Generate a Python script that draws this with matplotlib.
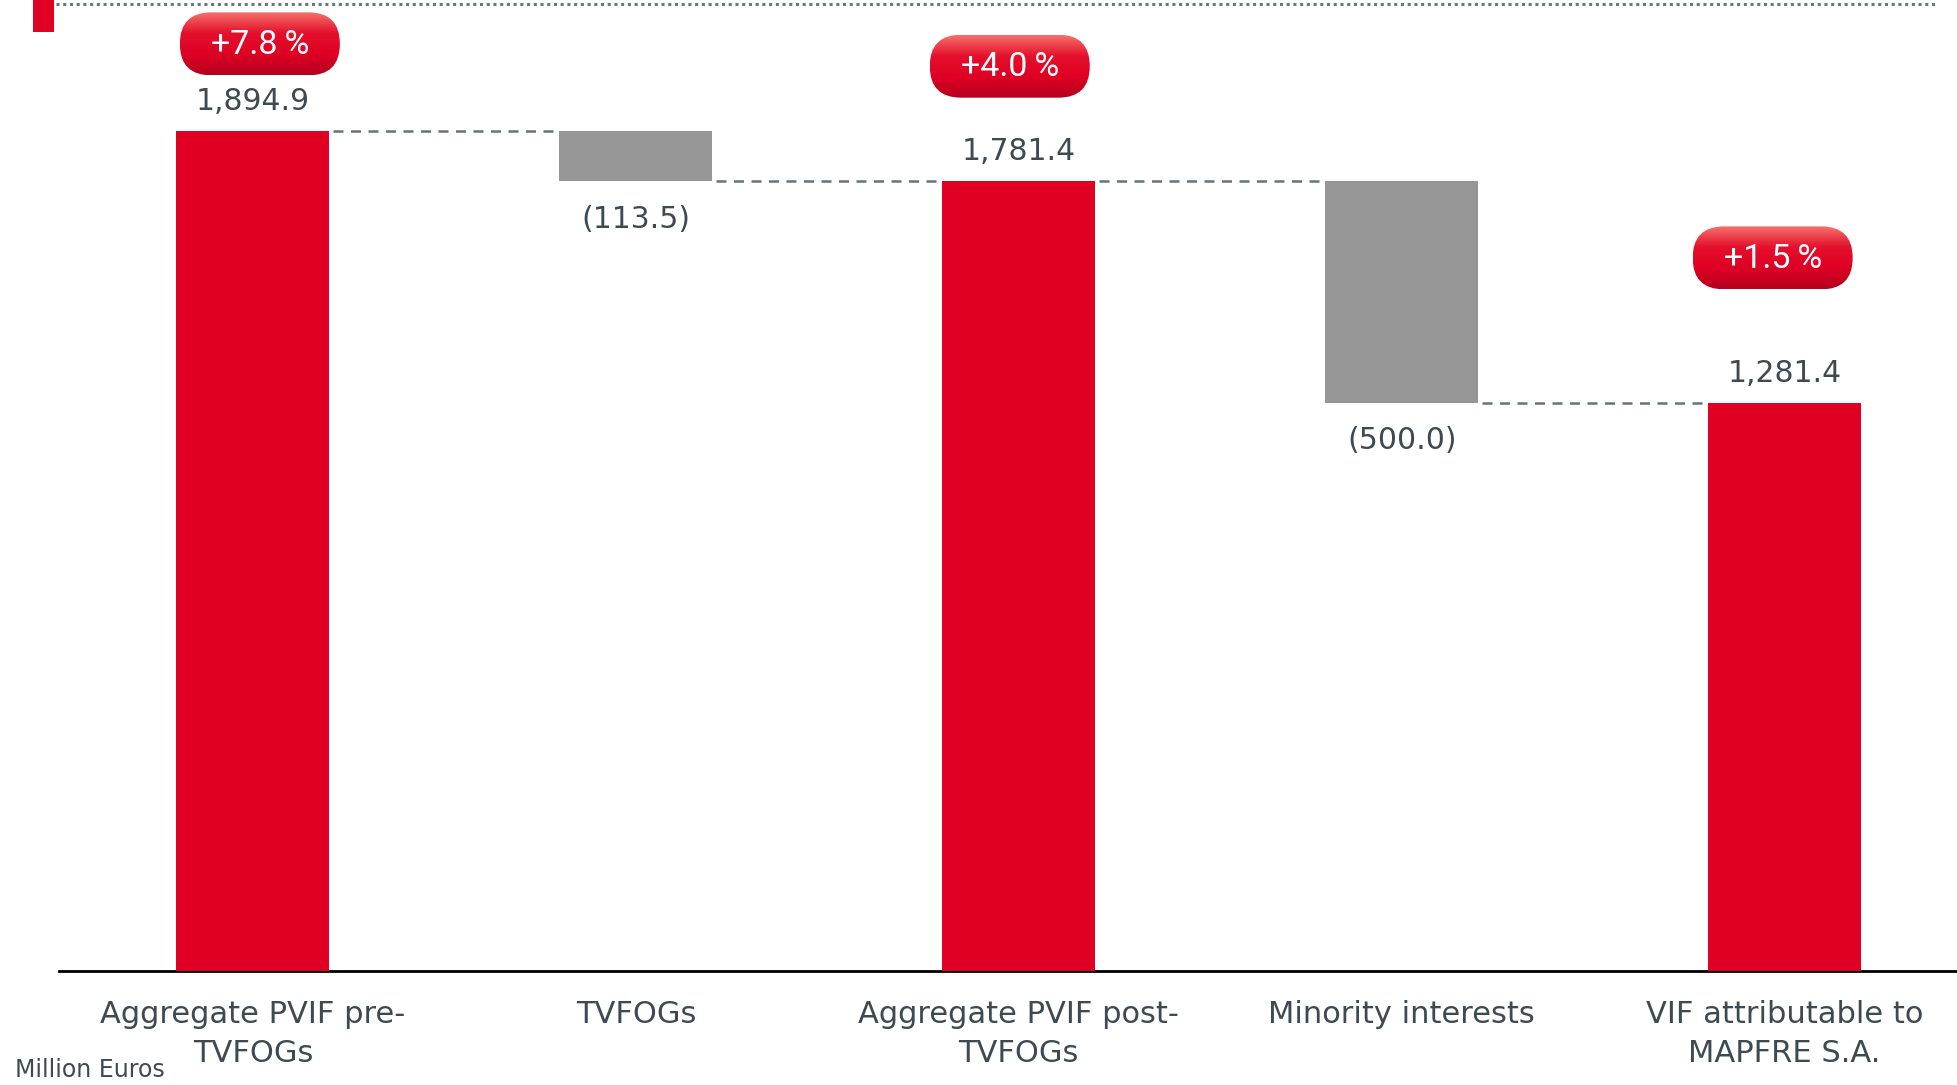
import numpy as np
import matplotlib.pyplot as plt
from matplotlib.patches import FancyBboxPatch
from matplotlib.colors import LinearSegmentedColormap

# Waterfall of value in force, million euros
categories = ["Aggregate PVIF pre-\nTVFOGs", "TVFOGs", "Aggregate PVIF post-\nTVFOGs",
              "Minority interests", "VIF attributable to\nMAPFRE S.A."]
values = [1894.9, -113.5, 1781.4, -500.0, 1281.4]
is_total = [True, False, True, False, True]
badges = ["+7.8\u2009%", None, "+4.0\u2009%", None, "+1.5\u2009%"]

RED = '#df0024'
GREY = '#969696'
TEXT = '#3d4a52'
DASH = '#66737d'

W, H = 1957, 1085
fig = plt.figure(figsize=(W / 100, H / 100), dpi=100)
ax = fig.add_axes([0.030, 0.105, 0.970, 0.895])

x = np.arange(len(values))
bottoms, heights, levels = [], [], []
running = 0.0
for v, tot in zip(values, is_total):
    if tot:
        bottoms.append(0.0)
        heights.append(v)
        running = v
    else:
        bottoms.append(running + v)
        heights.append(-v)
        running = running + v
    levels.append(running)

colors = [RED if t else GREY for t in is_total]
bar_w = 0.4
ax.bar(x, heights, bottom=bottoms, width=bar_w, color=colors, zorder=3)

# dashed connectors between bars
for i in range(len(values) - 1):
    ax.plot([x[i] + bar_w / 2 + 0.01, x[i + 1] - bar_w / 2 - 0.01], [levels[i], levels[i]],
            color=DASH, lw=1.8, ls=(0, (4, 3)), zorder=2)

# value labels
for i, (v, tot) in enumerate(zip(values, is_total)):
    if tot:
        ax.annotate(f"{v:,.1f}", (x[i], v), xytext=(0, 11), textcoords='offset points',
                    ha='center', va='bottom', fontsize=21.5, color=TEXT, family='DejaVu Sans')
    else:
        ax.annotate(f"({abs(v):,.1f})", (x[i], bottoms[i]), xytext=(0, -17),
                    textcoords='offset points', ha='center', va='top', fontsize=21.5,
                    color=TEXT, family='DejaVu Sans')

ax.set_xlim(-0.507, 4.45)
ax.set_ylim(0, 2190)
ax.set_xticks(x)
ax.set_xticklabels(categories, fontsize=22, color=TEXT, linespacing=1.42)
ax.tick_params(axis='x', length=0, pad=21)
ax.set_yticks([])
for s in ['top', 'right', 'left']:
    ax.spines[s].set_visible(False)
ax.spines['bottom'].set_linewidth(2)
ax.spines['bottom'].set_color('black')

# overlay in pixel coordinates for the decorations
ov = fig.add_axes([0, 0, 1, 1])
ov.set_xlim(0, W)
ov.set_ylim(H, 0)
ov.axis('off')
ov.patch.set_alpha(0)

# header rule and marker
ov.plot([56, 1937], [4, 4], color='#6a7680', lw=2.2, ls=(0, (1, 1.2)))
ov.add_patch(plt.Rectangle((33, 0), 21, 32, color=RED, lw=0))

# percentage badges
grad = LinearSegmentedColormap.from_list('badge', ['#f5706a', '#e4102c', '#df0024', '#b5001e'])
badge_offsets = {0: (7, -87), 2: (-9, -115), 4: (-12, -145)}
fig.canvas.draw()
for i, label in enumerate(badges):
    if label is None:
        continue
    px, py = ax.transData.transform((x[i], values[i]))
    cx = px + badge_offsets[i][0]
    cy = (H - py) + badge_offsets[i][1]
    bw, bh = 160, 63
    patch = FancyBboxPatch((cx - bw / 2, cy - bh / 2), bw, bh,
                           boxstyle=f"round,pad=0,rounding_size={bh / 2}",
                           facecolor='none', edgecolor='none')
    ov.add_patch(patch)
    g = np.linspace(0, 1, 100).reshape(-1, 1)
    im = ov.imshow(g, cmap=grad, aspect='auto',
                   extent=(cx - bw / 2, cx + bw / 2, cy + bh / 2, cy - bh / 2), zorder=4)
    im.set_clip_path(patch)
    ov.text(cx, cy + 1, label, ha='center', va='center', color='white', fontsize=24.5,
            family=['Roboto', 'DejaVu Sans'], zorder=5)

ov.set_xlim(0, W)
ov.set_ylim(H, 0)

fig.text(15 / W, 1 - 1070 / H, "Million Euros", fontsize=17, color=TEXT, va='center', ha='left')

fig.savefig('out.png', dpi=100)
